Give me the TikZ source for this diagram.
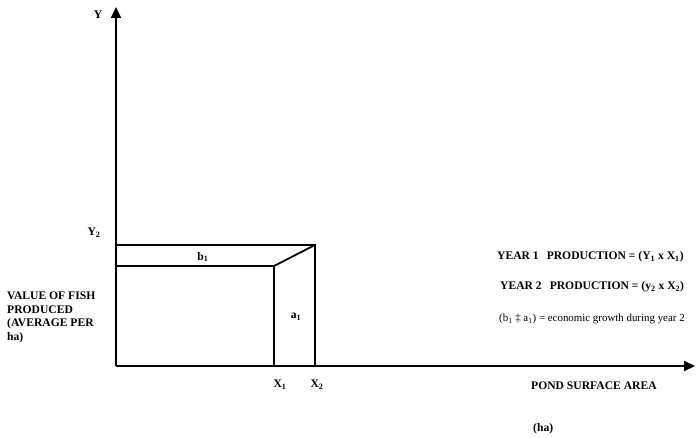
\documentclass[tikz,border=0pt]{standalone}
\usepackage{fontspec}
\setmainfont{Liberation Serif}
\usetikzlibrary{arrows.meta}
\tikzset{
  axis/.style={line width=2pt,-{Triangle[length=11pt,width=10pt]}},
  box/.style={line width=1.8pt},
  lbl/.style={font=\fontsize{11.6}{13.5}\selectfont\bfseries,inner sep=0pt},
  txt/.style={font=\fontsize{10.9}{13.5}\selectfont,inner sep=0pt},
}
\begin{document}
\begin{tikzpicture}[x=1pt,y=-1pt]
\useasboundingbox (0,0) rectangle (700,438);
\coordinate (O) at (116,366);
\coordinate (ytop) at (116,7);
\coordinate (xend) at (695,366);
\coordinate (Y2L) at (116,245);
\coordinate (Y2R) at (315,245);
\coordinate (inL) at (116,266);
\coordinate (inR) at (274,266);
\coordinate (X1) at (274,366);
\coordinate (X2) at (315,366);
\draw[axis] (O) -- (ytop);
\draw[axis] (O) -- (xend);
\draw[box] (Y2L) -- (Y2R) -- (X2);
\draw[box] (inL) -- (inR) -- (X1);
\draw[box] (inR) -- (Y2R);
\node[lbl] (Y) at (98,15) {Y};
\node[lbl] (Y2) at (94,233) {Y\textsubscript{2}};
\node[lbl] (b1) at (203,257) {b\textsubscript{1}};
\node[lbl] (a1) at (296,317) {a\textsubscript{1}};
\node[lbl] (X1l) at (280,385) {X\textsubscript{1}};
\node[lbl] (X2l) at (317,385) {X\textsubscript{2}};
\node[lbl,anchor=north west,align=left] (vf) at (7,292) {VALUE OF FISH\\PRODUCED\\(AVERAGE PER\\ha)};
\node[lbl,anchor=west] (y1) at (497,257) {YEAR 1\hspace{8pt}PRODUCTION = (Y\textsubscript{1} x X\textsubscript{1})};
\node[lbl,anchor=west] (y2) at (500,287) {YEAR 2\hspace{8pt}PRODUCTION = (y\textsubscript{2} x X\textsubscript{2})};
\node[txt,anchor=west] (eg) at (499,319) {(b\textsubscript{1} ‡ a\textsubscript{1}) = economic growth during year 2};
\node[lbl,anchor=west] (psa) at (531,386) {POND SURFACE AREA};
\node[lbl,anchor=west] (ha) at (533,429) {(ha)};
\end{tikzpicture}
\end{document}
